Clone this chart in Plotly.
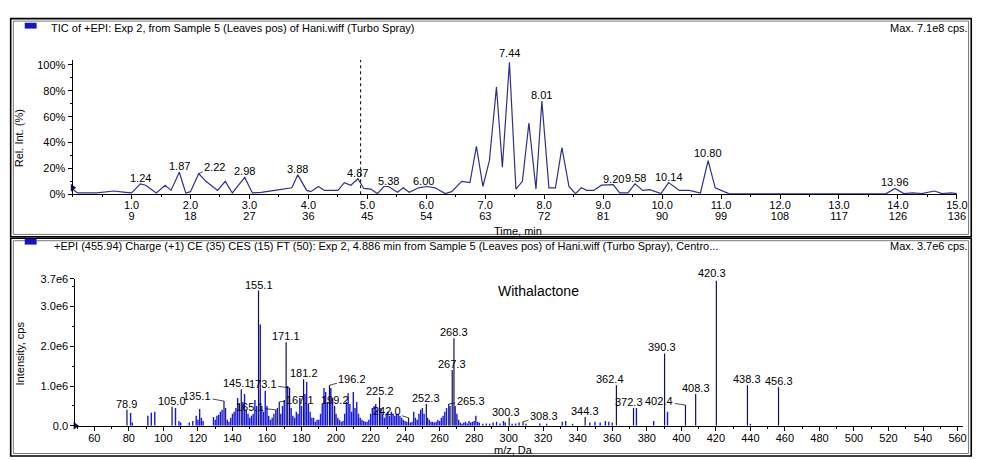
import plotly.graph_objects as go

W, H = 986, 460
FONT = "Liberation Sans, Arial, sans-serif"
FS = 11

# ---------------- data: TIC chromatogram ----------------
tic_time = [0.0, 0.08, 0.41, 0.70, 0.90, 1.00, 1.15, 1.24, 1.42, 1.57, 1.67, 1.81, 1.92, 2.00,
            2.14, 2.26, 2.46, 2.59, 2.71, 2.92, 3.05, 3.20, 3.43, 3.66, 3.72, 3.82, 3.97, 4.04,
            4.17, 4.27, 4.50, 4.61, 4.72, 4.84, 4.94, 5.06, 5.17, 5.28, 5.36, 5.51, 5.61, 5.71,
            5.87, 6.01, 6.15, 6.32, 6.43, 6.60, 6.74, 6.85, 6.96, 7.07, 7.19, 7.29, 7.41, 7.52,
            7.63, 7.74, 7.86, 7.96, 8.08, 8.19, 8.30, 8.42, 8.53, 8.63, 8.72, 8.84, 8.97, 9.17,
            9.28, 9.42, 9.54, 9.67, 9.79, 9.98, 10.11, 10.29, 10.46, 10.65, 10.78, 10.90, 11.02,
            11.13, 11.5, 12.0, 12.5, 13.0, 13.5, 13.8, 13.95, 14.1, 14.25, 14.4, 14.62, 14.75,
            14.9, 15.0]
tic_pct = [4, 1, 1, 2.5, 1.5, 1, 8, 7, 1, 7, 3, 17, 1, 2,
           16, 10, 3, 10, 1, 13, 1, 1.5, 3, 5, 5, 15, 3, 2,
           6, 3, 3, 9, 7, 12, 4.5, 4, 0.5, 6, 6, 1.5, 5, 1.5,
           5, 6, 5, 0.5, 2, 10, 9, 37, 6, 26, 83, 21, 102, 4,
           10, 55, 4, 72, 5, 5, 36, 6, 0.5, 5, 3, 3, 7, 7.5,
           1, 1, 8, 3, 3.5, 0.5, 9, 3, 3, 1, 26, 5, 2.5,
           0.5, 0.3, 0.3, 0.3, 0.4, 0.3, 0.5, 4.5, 0.5, 1, 0.5, 2.5, 0.5,
           1, 0.5]
tic_peak_times = [1.15, 1.81, 2.14, 2.92, 3.82, 4.84, 5.36, 6.01, 7.41, 7.96, 9.17, 9.54, 10.11, 10.78, 13.95]
tic_peak_labels = ["1.24", "1.87", "2.22", "2.98", "3.88", "4.87", "5.38", "6.00", "7.44", "8.01",
                   "9.20", "9.58", "10.14", "10.80", "13.96"]
time_ticks = [1, 2, 3, 4, 5, 6, 7, 8, 9, 10, 11, 12, 13, 14, 15]
scan_ticks = [9, 18, 27, 36, 45, 54, 63, 72, 81, 90, 99, 108, 117, 126, 136]
pct_ticks = [0, 20, 40, 60, 80, 100]
spectrum_time = 4.886
marker_time = [0.0]
marker_pct = [5]

# ---------------- data: product ion spectrum ----------------
spec_mz = [78.9, 81.0, 82.0, 91.0, 93.0, 95.0, 105.0, 107.0, 109.0, 110.0, 115.0, 117.0, 119.0, 121.0,
           123.0, 129.0, 131.0, 133.0, 135.1, 137.0, 141.0, 143.0, 144.0, 145.1, 146.0, 147.0, 148.0,
           149.0, 151.0, 153.0, 154.0, 155.1, 156.1, 157.0, 158.0, 159.0, 160.0, 161.0, 162.0, 165.1,
           167.1, 169.0, 170.0, 171.1, 172.0, 173.1, 174.0, 176.0, 178.0, 179.0, 180.0, 181.2, 182.0,
           183.0, 184.0, 185.0, 187.0, 189.0, 191.0, 193.0, 194.0, 195.0, 196.2, 197.0, 198.0, 199.2,
           200.0, 201.0, 203.0, 205.0, 206.0, 207.0, 208.0, 209.0, 210.0, 211.0, 212.0, 213.0, 215.0,
           217.0, 219.0, 221.0, 222.0, 223.0, 224.0, 225.2, 226.0, 227.0, 229.0, 231.0, 232.0, 233.0,
           235.0, 237.0, 238.0, 239.0, 241.0, 242.0, 243.0, 245.0, 247.0, 248.0, 249.0, 250.0, 252.3,
           253.0, 255.0, 257.0, 259.0, 261.0, 263.0, 264.0, 265.3, 266.0, 267.3, 268.3, 269.0, 270.0,
           272.0, 275.0, 277.0, 279.0, 281.0, 283.0, 285.0, 287.0, 289.0, 291.0, 293.0, 295.0, 297.0,
           298.0, 300.3, 302.0, 304.0, 306.0, 308.3, 310.0, 318.0, 322.0, 331.0, 333.0, 337.0, 344.3,
           347.0, 350.0, 353.0, 356.0, 358.0, 360.0, 362.4, 372.3, 374.0, 384.0, 390.3, 392.0, 402.4,
           408.3, 420.3, 438.3, 440.0, 456.3,
           120.0, 122.0, 130.0, 132.0, 134.0, 136.0, 138.0, 139.0, 140.0, 142.0, 150.0, 152.0, 163.0,
           164.0, 166.0, 168.0, 175.0, 177.0, 186.0, 188.0, 190.0, 192.0, 202.0, 204.0, 214.0, 216.0,
           218.0, 220.0, 228.0, 230.0, 234.0, 236.0, 240.0, 244.0, 246.0, 251.0, 254.0, 256.0, 258.0,
           260.0, 262.0, 271.0, 273.0, 274.0, 276.0, 278.0, 280.0, 282.0]
spec_int_e6 = [0.40, 0.32, 0.08, 0.25, 0.33, 0.35, 0.48, 0.45, 0.12, 0.08, 0.08, 0.12, 0.25, 0.42,
               0.12, 0.22, 0.25, 0.35, 0.62, 0.15, 0.35, 0.70, 0.55, 0.92, 0.60, 0.80, 0.40,
               0.30, 0.25, 0.65, 0.50, 3.40, 2.55, 0.50, 0.35, 0.88, 0.50, 0.25, 0.15, 0.40,
               0.60, 0.50, 0.65, 2.10, 1.00, 0.95, 0.45, 0.20, 0.30, 0.70, 0.50, 1.17, 0.80,
               1.10, 0.55, 0.35, 0.20, 0.15, 0.30, 0.95, 0.85, 0.60, 1.02, 0.95, 0.70, 0.50,
               0.30, 0.20, 0.10, 0.30, 0.60, 0.82, 0.55, 0.35, 0.85, 0.45, 0.60, 0.30, 0.15,
               0.10, 0.15, 0.45, 0.50, 0.55, 0.40, 0.72, 0.45, 0.30, 0.30, 0.25, 0.35, 0.30,
               0.30, 0.25, 0.20, 0.15, 0.10, 0.20, 0.08, 0.35, 0.15, 0.30, 0.40, 0.45, 0.55,
               0.20, 0.10, 0.08, 0.15, 0.20, 0.35, 0.45, 0.55, 0.50, 1.40, 2.20, 0.50, 0.30,
               0.08, 0.10, 0.12, 0.10, 0.25, 0.08, 0.05, 0.06, 0.05, 0.08, 0.10, 0.06, 0.12,
               0.08, 0.20, 0.05, 0.06, 0.08, 0.10, 0.05, 0.06, 0.05, 0.10, 0.12, 0.05, 0.22,
               0.08, 0.10, 0.08, 0.12, 0.10, 0.08, 1.02, 0.45, 0.45, 0.12, 1.82, 0.35, 0.52,
               0.80, 3.65, 1.02, 0.05, 0.97,
               0.15, 0.20, 0.15, 0.28, 0.40, 0.45, 0.10, 0.20, 0.30, 0.45, 0.20, 0.30, 0.20,
               0.30, 0.45, 0.30, 0.25, 0.35, 0.20, 0.10, 0.15, 0.55, 0.15, 0.12, 0.20, 0.12,
               0.10, 0.30, 0.20, 0.35, 0.25, 0.30, 0.12, 0.10, 0.20, 0.30, 0.15, 0.10, 0.10,
               0.12, 0.25, 0.15, 0.05, 0.08, 0.06, 0.08, 0.12, 0.10]
spec_label_mz = [78.9, 105.0, 135.1, 145.1, 155.1, 165.1, 167.1, 171.1, 173.1, 181.2, 196.2, 199.2,
                 225.2, 242.0, 252.3, 265.3, 267.3, 268.3, 300.3, 308.3, 344.3, 362.4, 372.3, 390.3,
                 402.4, 408.3, 420.3, 438.3, 456.3]
mz_ticks = list(range(60, 561, 20))
int_ticks = [0, 1.0e6, 2.0e6, 3.0e6, 3.7e6]
int_tick_text = ["0.0", "1.0e6", "2.0e6", "3.0e6", "3.7e6"]

# ---------------- helpers ----------------
def pxx(x):
    return x / W

def pxy(y):
    return 1 - y / H

fig = go.Figure()

# TIC trace
fig.add_trace(go.Scatter(x=tic_time, y=tic_pct, mode="lines", xaxis="x", yaxis="y",
                         line=dict(color="#30308a", width=1.2), hoverinfo="skip", showlegend=False))
fig.add_trace(go.Scatter(x=marker_time, y=marker_pct, mode="markers", xaxis="x", yaxis="y",
                         marker=dict(symbol="triangle-right", size=7, color="#101060"),
                         cliponaxis=False, hoverinfo="skip", showlegend=False))

# spectrum sticks
def sticks(mzs, ints):
    xs, ys = [], []
    for m, v in zip(mzs, ints):
        xs += [m, m, None]
        ys += [0, v * 1e6, None]
    return xs, ys

lab_set = set(spec_label_mz)
plain = [(m, v) for m, v in zip(spec_mz, spec_int_e6) if m not in lab_set]
labd = [(m, v) for m, v in zip(spec_mz, spec_int_e6) if m in lab_set]
xs, ys = sticks([p[0] for p in plain], [p[1] for p in plain])
fig.add_trace(go.Scatter(x=xs, y=ys, mode="lines", xaxis="x2", yaxis="y2",
                         line=dict(color="#1818dc", width=1.4), hoverinfo="skip", showlegend=False))
xs, ys = sticks([p[0] for p in labd], [p[1] for p in labd])
fig.add_trace(go.Scatter(x=xs, y=ys, mode="lines", xaxis="x2", yaxis="y2",
                         line=dict(color="#12124e", width=1.2), hoverinfo="skip", showlegend=False))
fig.add_trace(go.Scatter(x=[49], y=[0], mode="markers", xaxis="x2", yaxis="y2",
                         marker=dict(symbol="triangle-right", size=7, color="#101060"),
                         cliponaxis=False, hoverinfo="skip", showlegend=False))

axis_common = dict(showline=True, linecolor="black", linewidth=1, ticks="outside", ticklen=4,
                   tickcolor="black", tickwidth=1, showgrid=False, zeroline=False,
                   tickfont=dict(family=FONT, size=FS, color="black"), fixedrange=True)

fig.update_layout(
    width=W, height=H, margin=dict(l=0, r=0, t=0, b=0),
    paper_bgcolor="white", plot_bgcolor="white", showlegend=False,
    font=dict(family=FONT, size=FS, color="black"),
    xaxis=dict(domain=[pxx(73.4), pxx(967.7)], range=[0, 15], anchor="y",
               tickmode="array", tickvals=time_ticks, ticktext=[f"{t:.1f}" for t in time_ticks],
               ticklabelstandoff=-3,
               minor=dict(tickmode="linear", tick0=0, dtick=0.5, ticks="outside", ticklen=2,
                          tickcolor="black"),
               **axis_common),
    xaxis3=dict(overlaying="x", range=[0, 15], anchor="y", side="bottom", showline=False,
                ticks="", showgrid=False, zeroline=False, tickmode="array", tickvals=time_ticks,
                ticktext=[str(s) for s in scan_ticks], ticklabelstandoff=14,
                tickfont=dict(family=FONT, size=FS, color="black"), fixedrange=True),
    yaxis=dict(domain=[pxy(193.3), pxy(55.2)], range=[0, 104], anchor="x",
               tickmode="array", tickvals=pct_ticks, ticktext=[f"{p}%" for p in pct_ticks],
               minor=dict(tickmode="linear", tick0=0, dtick=10, ticks="outside", ticklen=2,
                          tickcolor="black"),
               **axis_common),
    xaxis2=dict(domain=[pxx(76.2), pxx(973.6)], range=[49, 563], anchor="y2",
                tickmode="array", tickvals=mz_ticks, ticktext=[str(v) for v in mz_ticks],
                ticklabelstandoff=-2,
                minor=dict(tickmode="linear", tick0=0, dtick=10, ticks="outside", ticklen=2,
                           tickcolor="black"),
                **axis_common),
    yaxis2=dict(domain=[pxy(431), pxy(280)], range=[0, 3.7e6], anchor="x2",
                tickmode="array", tickvals=int_ticks, ticktext=int_tick_text,
                minor=dict(tickmode="linear", tick0=0, dtick=0.5e6, ticks="outside", ticklen=2,
                           tickcolor="black"),
                **axis_common),
)
# invisible trace to activate the scan-number axis
fig.add_trace(go.Scatter(x=[None], y=[None], xaxis="x3", yaxis="y", hoverinfo="skip", showlegend=False))

shapes = []
# panel frames (double lines)
for (y0, y1) in [(13, 237), (238.5, 462)]:
    shapes.append(dict(type="rect", xref="paper", yref="paper", x0=pxx(10.8), x1=pxx(982.2),
                       y0=pxy(y1), y1=pxy(y0), line=dict(color="black", width=1.6)))
    shapes.append(dict(type="rect", xref="paper", yref="paper", x0=pxx(13.5), x1=pxx(979.5),
                       y0=pxy(y1 - 2.5), y1=pxy(y0 + 2.5), line=dict(color="#555555", width=0.8)))
# legend squares
for yc in [20.2, 242]:
    shapes.append(dict(type="rect", xref="paper", yref="paper", x0=pxx(25), x1=pxx(37),
                       y0=pxy(yc + 3), y1=pxy(yc - 3), line=dict(width=0), fillcolor="#1414c8"))
# dotted line at the spectrum time
shapes.append(dict(type="line", xref="x", yref="y", x0=spectrum_time, x1=spectrum_time, y0=0, y1=104,
                   line=dict(color="black", width=1, dash="dot")))
fig.update_layout(shapes=shapes)

ann = []
def txt(x, y, s, xanchor="center", size=FS, **kw):
    ann.append(dict(x=pxx(x), y=pxy(y), xref="paper", yref="paper", text=s, showarrow=False,
                    xanchor=xanchor, yanchor="middle", font=dict(family=FONT, size=size, color="black"),
                    **kw))

txt(50, 22.5, "TIC of +EPI: Exp 2, from Sample 5 (Leaves pos) of Hani.wiff (Turbo Spray)", "left")
txt(981, 22.5, "Max. 7.1e8 cps.", "right")
txt(53, 246, "+EPI (455.94) Charge (+1) CE (35) CES (15) FT (50): Exp 2, 4.886 min from Sample 5 "
             "(Leaves pos) of Hani.wiff (Turbo Spray), Centro...", "left")
txt(981, 246, "Max. 3.7e6 cps.", "right")
txt(523.5, 231, "Time, min")
txt(519, 456, "m/z, Da")
txt(20, 136, "Rel. Int. (%)", textangle=-90)
txt(20, 357, "Intensity, cps", textangle=-90)
txt(544.5, 293, "Withalactone", size=14)

# TIC peak labels
tic_lookup = dict(zip(tic_time, tic_pct))
tic_offsets = {"2.22": (16, -7), "7.44": (0, 3), "10.80": (0, 2), "6.00": (-3, 0)}
for t, lab in zip(tic_peak_times, tic_peak_labels):
    yv = tic_lookup[t]
    if lab == "2.22":
        ax, ay = tic_offsets[lab]
        ann.append(dict(x=t, y=yv, xref="x", yref="y", text=lab, showarrow=True, arrowhead=0,
                        arrowwidth=0.7, arrowcolor="black", ax=ax, ay=ay, standoff=0,
                        font=dict(family=FONT, size=FS, color="black")))
    else:
        dx, dy = tic_offsets.get(lab, (0, 0))
        ann.append(dict(x=t, y=yv, xref="x", yref="y", text=lab, showarrow=False,
                        xanchor="center", yanchor="bottom", xshift=dx, yshift=dy - 2,
                        font=dict(family=FONT, size=FS, color="black")))

# spectrum peak labels
spec_lookup = dict(zip(spec_mz, spec_int_e6))
leaders = {135.1: (-27, -5), 165.1: (-26, -3), 167.1: (21, -2), 173.1: (-27, -4), 196.2: (23, -6),
           242.0: (-22, -7), 265.3: (22, -3), 308.3: (21, -6), 402.4: (-26, -4)}
shifts = {145.1: (-4, 0), 362.4: (-6, 0), 300.3: (-3, 0), 390.3: (-3, 0), 420.3: (-4, 2),
          372.3: (-5, 0)}
for m in spec_label_mz:
    v = spec_lookup[m] * 1e6
    lab = f"{m:.1f}"
    if m in leaders:
        ax, ay = leaders[m]
        ann.append(dict(x=m, y=v, xref="x2", yref="y2", text=lab, showarrow=True, arrowhead=0,
                        arrowwidth=0.7, arrowcolor="black", ax=ax, ay=ay, standoff=0,
                        font=dict(family=FONT, size=FS, color="black")))
    else:
        dx, dy = shifts.get(m, (0, 0))
        ann.append(dict(x=m, y=v, xref="x2", yref="y2", text=lab, showarrow=False,
                        xanchor="center", yanchor="bottom", xshift=dx, yshift=dy - 2,
                        font=dict(family=FONT, size=FS, color="black")))

fig.update_layout(annotations=ann)
fig.write_html("out.html")
